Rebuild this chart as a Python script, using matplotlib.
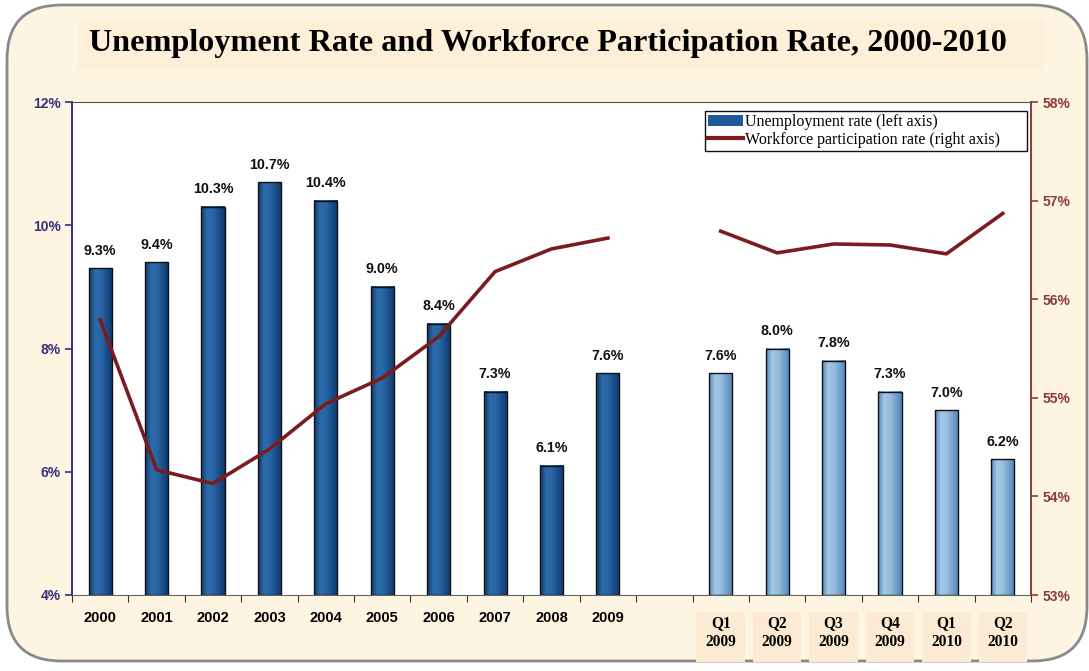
import matplotlib.pyplot as plt
import numpy as np
from matplotlib.patches import FancyBboxPatch, Rectangle
from matplotlib.colors import LinearSegmentedColormap
from matplotlib.lines import Line2D
import matplotlib.transforms as mtransforms

# annual values 2000-2009
years = ['2000', '2001', '2002', '2003', '2004', '2005', '2006', '2007', '2008', '2009']
unemp_year = [9.3, 9.4, 10.3, 10.7, 10.4, 9.0, 8.4, 7.3, 6.1, 7.6]
part_year = [55.79, 54.27, 54.13, 54.48, 54.94, 55.20, 55.62, 56.28, 56.51, 56.62]

# quarterly values Q1 2009 - Q2 2010
quarters = ['Q1\n2009', 'Q2\n2009', 'Q3\n2009', 'Q4\n2009', 'Q1\n2010', 'Q2\n2010']
unemp_q = [7.6, 8.0, 7.8, 7.3, 7.0, 6.2]
part_q = [56.69, 56.47, 56.56, 56.55, 56.46, 56.87]

cream = '#fdf5e1'
navy = '#35317a'
dark_red = '#7a1c1f'

fig = plt.figure(figsize=(10.89, 6.71), dpi=100)
fig.patch.set_facecolor('white')

# rounded cream panel behind everything
panel = FancyBboxPatch((7 / 1089, 10 / 671), 1080 / 1089, 656 / 671,
                       boxstyle='round,pad=0,rounding_size=0.05',
                       transform=fig.transFigure, facecolor=cream,
                       edgecolor='#8a8a8a', linewidth=2.0, zorder=-10,
                       mutation_aspect=1089 / 671)
fig.patches.append(panel)

# title band
fig.patches.append(Rectangle((78 / 1089, 1 - 70 / 671), 967 / 1089, 50 / 671,
                             transform=fig.transFigure, facecolor='#fef0d8',
                             edgecolor='none', zorder=-9))
fig.text(548 / 1089, 1 - 43 / 671,
         'Unemployment Rate and Workforce Participation Rate, 2000-2010',
         ha='center', va='center', fontsize=23.2, fontweight='bold',
         family='Liberation Serif', zorder=2)

ax = fig.add_axes([72 / 1089, 1 - 595 / 671, 959 / 1089, 493 / 671])
ax.set_facecolor('white')
ax2 = ax.twinx()

x_year = np.arange(len(years))
x_q = np.arange(len(quarters)) + 11
width = 0.41

cmap_dark = LinearSegmentedColormap.from_list(
    'dk', ['#10396c', '#2d6aab', '#2a66a6', '#1a4f8a', '#10386a'])
cmap_light = LinearSegmentedColormap.from_list(
    'lt', ['#5587ba', '#a6c8e6', '#98bee0', '#73a2ce', '#5484b5'])
grad = np.linspace(0, 1, 64).reshape(1, -1)


def draw_bars(xs, vals, cmap):
    for xi, v in zip(xs, vals):
        ax.imshow(grad, cmap=cmap, aspect='auto',
                  extent=(xi - width / 2, xi + width / 2, 4, v), zorder=2)
        ax.bar(xi, v - 4, width, bottom=4, facecolor='none',
               edgecolor='#111111', linewidth=1.0, zorder=3)
        ax.text(xi, v + 0.17, f'{v:.1f}%', ha='center', va='bottom',
                fontsize=10.3, fontweight='bold', family='Liberation Sans',
                color='#111111', zorder=4)


draw_bars(x_year, unemp_year, cmap_dark)
draw_bars(x_q, unemp_q, cmap_light)

ax.set_xlim(-0.5, 16.5)
ax.set_ylim(4, 12)
ax.set_yticks([4, 6, 8, 10, 12])
ax.set_yticklabels(['4%', '6%', '8%', '10%', '12%'])
ax.tick_params(axis='y', colors=navy, labelsize=10, length=5, width=1.2, pad=3)
for lab in ax.get_yticklabels():
    lab.set_fontweight('bold')
    lab.set_family('Liberation Sans')

# tick marks at category boundaries, labels at centres
ax.set_xticks(np.arange(-0.5, 17, 1))
ax.set_xticklabels([])
ax.tick_params(axis='x', which='major', length=5, color='#333333')
ax.set_xticks(x_year, minor=True)
ax.set_xticklabels(years, minor=True)
ax.tick_params(axis='x', which='minor', length=0, pad=11.5, labelsize=10.5)
for lab in ax.get_xticklabels(minor=True):
    lab.set_fontweight('bold')
    lab.set_family('Liberation Sans')

# quarter labels sit on their own shaded tiles
trans = mtransforms.blended_transform_factory(ax.transData, ax.transAxes)
for xi, q in zip(x_q, quarters):
    ax.add_patch(Rectangle((xi - 0.43, -0.136), 0.86, 0.101, transform=trans,
                           facecolor='#fcebd2', edgecolor='none',
                           clip_on=False, zorder=1))
    ax.text(xi, -0.076, q, transform=trans, ha='center', va='center',
            fontsize=11.2, fontweight='bold', family='Liberation Serif',
            linespacing=1.3, zorder=2)

ax.spines['left'].set_color(navy)
ax.spines['left'].set_linewidth(1.4)
ax.spines['bottom'].set_color('#666666')
ax.spines['top'].set_color('#555555')
ax.spines['right'].set_visible(False)

# participation rate on the right axis
ax2.plot(x_year, part_year, color=dark_red, linewidth=2.6, zorder=5)
ax2.plot(x_q, part_q, color=dark_red, linewidth=2.6, zorder=5)
ax2.set_ylim(53, 58)
ax2.set_yticks([53, 54, 55, 56, 57, 58])
ax2.set_yticklabels(['53%', '54%', '55%', '56%', '57%', '58%'])
ax2.tick_params(axis='y', colors='#8b3a3a', labelsize=10, length=5, width=1.2, pad=3)
for lab in ax2.get_yticklabels():
    lab.set_fontweight('bold')
    lab.set_family('Liberation Sans')
ax2.spines['right'].set_color('#8b3a3a')
ax2.spines['right'].set_linewidth(1.4)
ax2.spines['left'].set_visible(False)
ax2.spines['top'].set_visible(False)
ax2.spines['bottom'].set_visible(False)

handles = [Rectangle((0, 0), 1, 1, facecolor='#1f5a9a', edgecolor='none'),
           Line2D([0], [0], color=dark_red, linewidth=3)]
leg = ax2.legend(handles, ['Unemployment rate (left axis)',
                           'Workforce participation rate (right axis)'],
                 loc='upper left', bbox_to_anchor=(0.660, 0.0, 0.336, 0.982),
                 mode='expand',
                 prop={'family': 'Liberation Serif', 'size': 11.5},
                 frameon=True, fancybox=False, edgecolor='#111111',
                 framealpha=1, borderpad=0.18, handlelength=2.2,
                 handletextpad=0.1, labelspacing=0.12, borderaxespad=0.0)
leg.get_frame().set_linewidth(1.0)

fig.savefig('out.png', dpi=100, facecolor=fig.get_facecolor())
